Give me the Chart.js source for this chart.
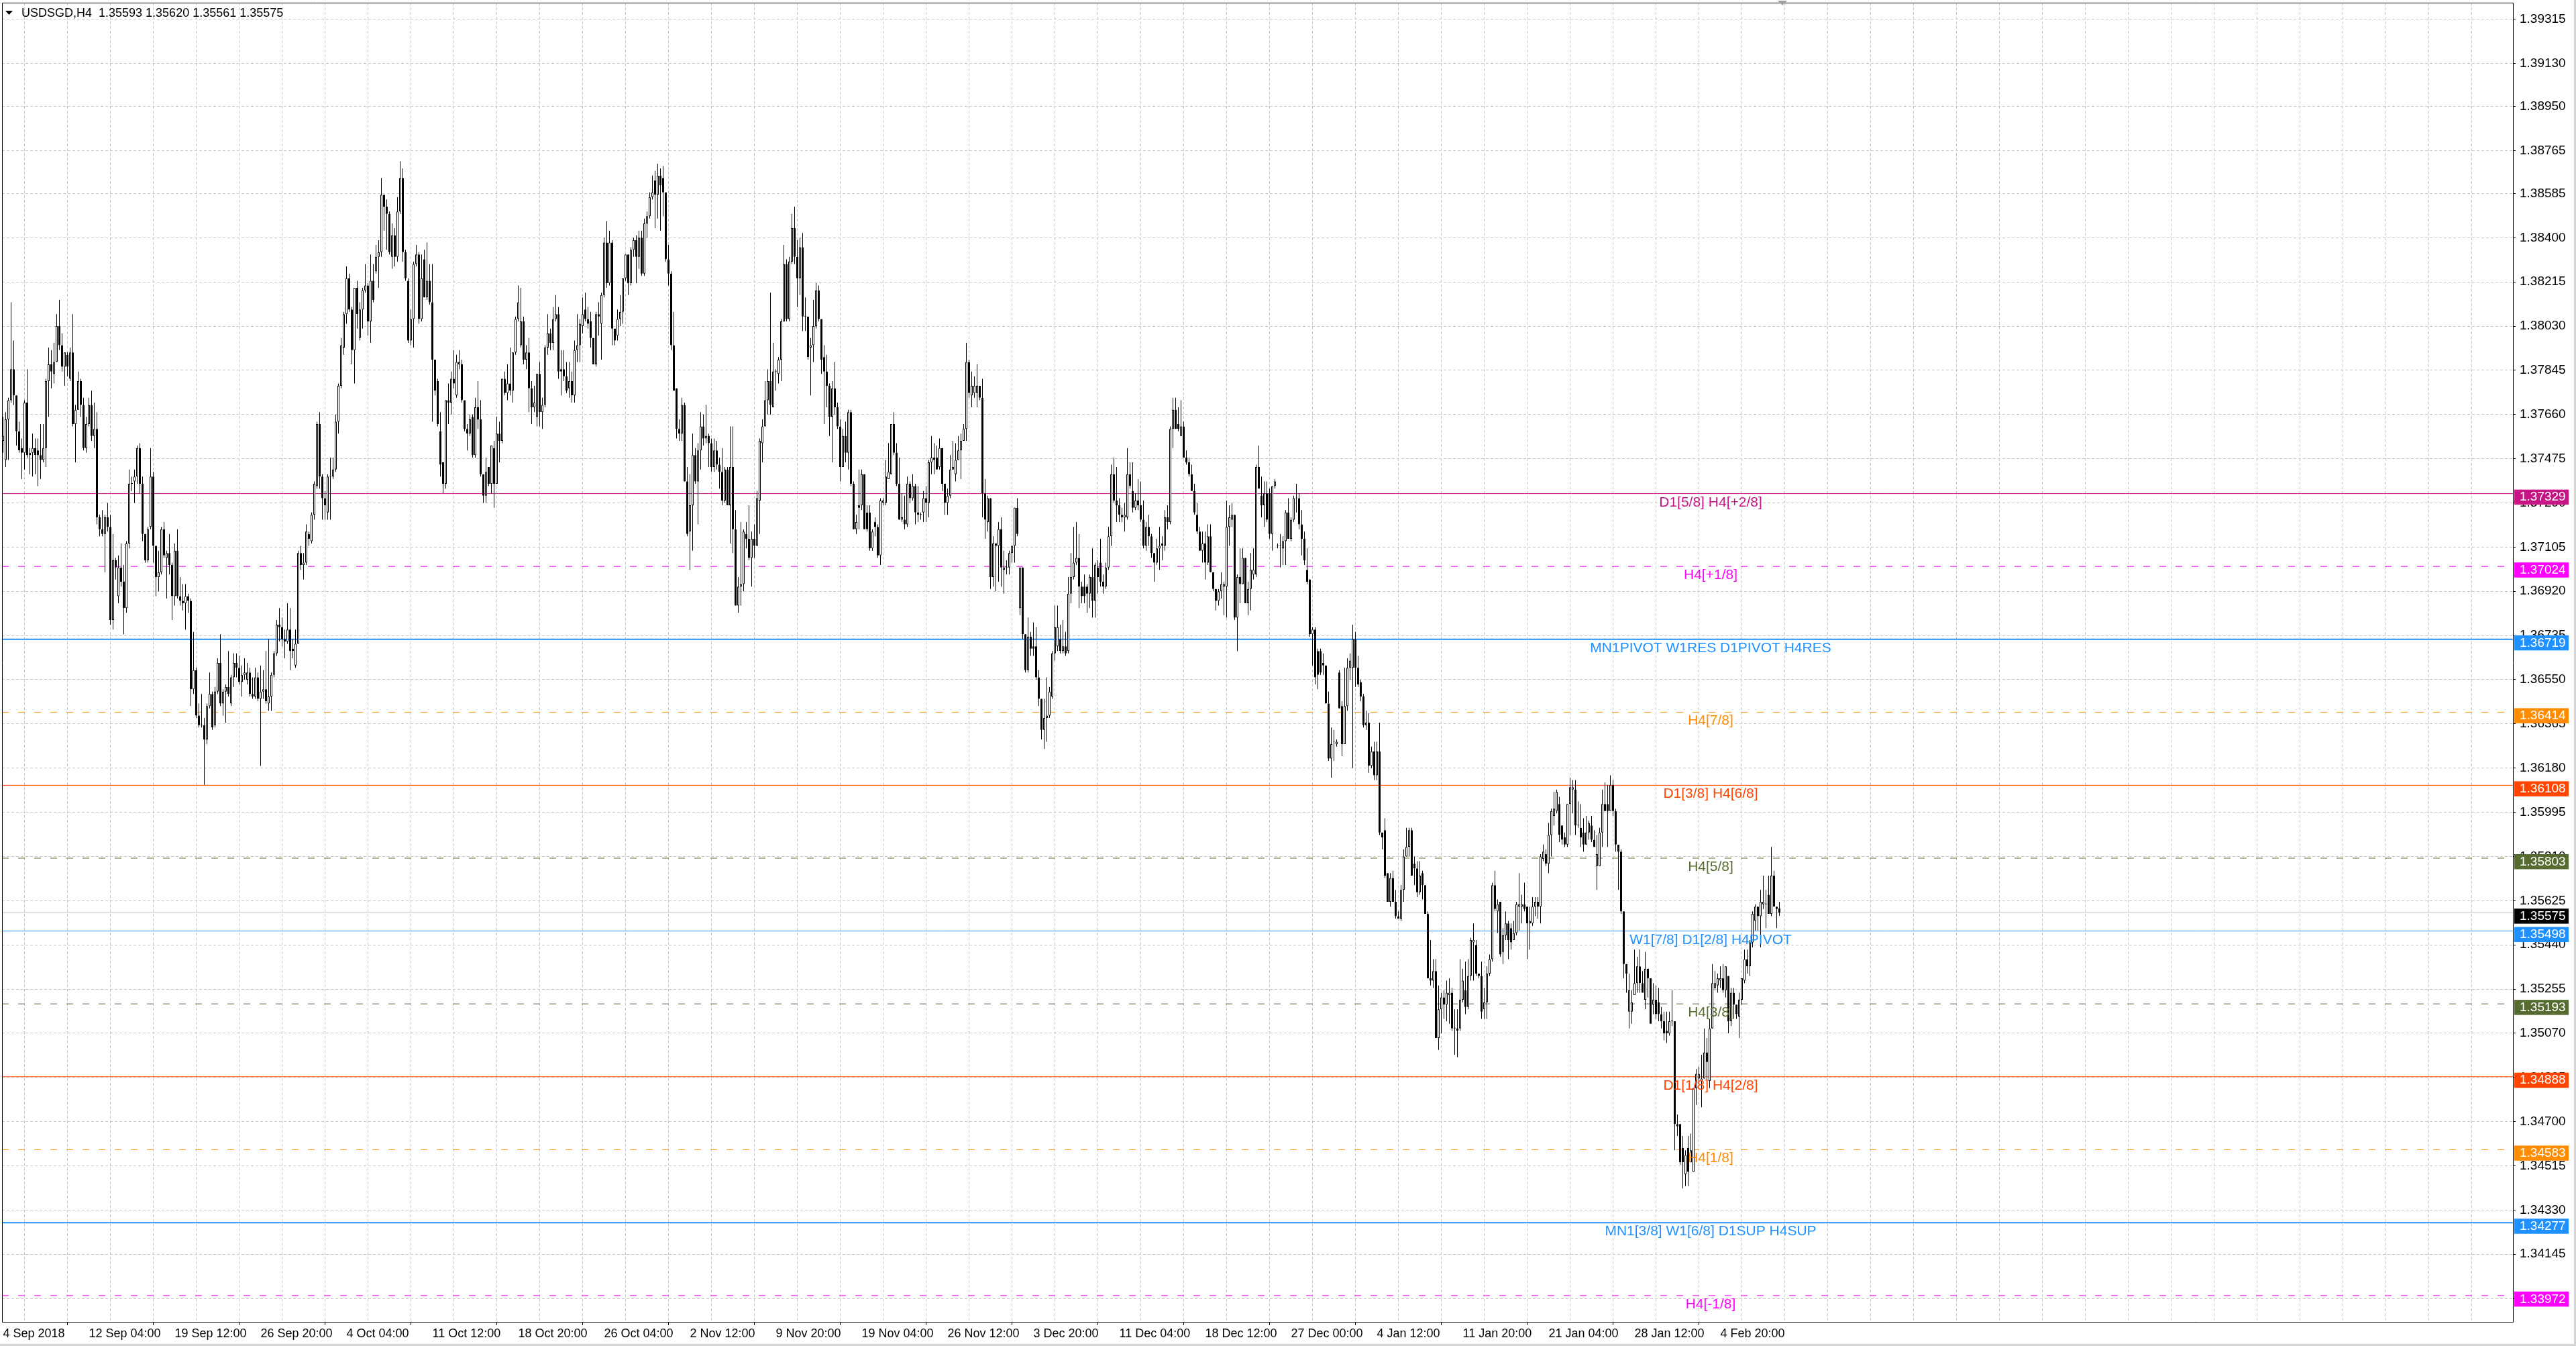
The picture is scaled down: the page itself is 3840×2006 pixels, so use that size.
<!DOCTYPE html>
<html>
<head>
<meta charset="utf-8">
<title>USDSGD,H4</title>
<script src="https://cdn.jsdelivr.net/npm/chart.js@4.4.1/dist/chart.umd.min.js"></script>
<style>
  html, body { margin: 0; padding: 0; background: #fff; overflow: hidden; }
  canvas { display: block; }
</style>
</head>
<body>
<canvas id="chart" width="3840" height="2006"></canvas>
<script>
// USDSGD H4 candles, 4 Sep 2018 .. 8 Feb 2019
const chartTitle = 'USDSGD,H4  1.35593 1.35620 1.35561 1.35575';

const opens = [
  1.3755,1.3747,1.3764,1.3772,1.3785,1.3774,1.3759,1.3752,1.3750,1.3771,
  1.3749,1.3750,1.3752,1.3751,1.3749,1.3747,1.3752,1.3780,1.3787,1.3783,
  1.3788,1.3803,1.3795,1.3786,1.3791,1.3781,1.3792,1.3762,1.3768,1.3780,
  1.3770,1.3752,1.3762,1.3770,1.3757,1.3760,1.3723,1.3718,1.3716,1.3723,
  1.3719,1.3680,1.3705,1.3690,1.3702,1.3696,1.3685,1.3712,1.3737,1.3738,
  1.3740,1.3752,1.3737,1.3716,1.3705,1.3719,1.3740,1.3711,1.3698,1.3700,
  1.3718,1.3706,1.3708,1.3703,1.3690,1.3709,1.3690,1.3688,1.3687,1.3690,
  1.3688,1.3651,1.3659,1.3640,1.3636,1.3636,1.3630,1.3644,1.3649,1.3636,
  1.3650,1.3662,1.3645,1.3650,1.3652,1.3645,1.3656,1.3662,1.3660,1.3654,
  1.3657,1.3655,1.3658,1.3649,1.3648,1.3656,1.3647,1.3650,1.3651,1.3645,
  1.3648,1.3657,1.3666,1.3678,1.3677,1.3672,1.3671,1.3676,1.3668,1.3661,
  1.3670,1.3708,1.3703,1.3704,1.3716,1.3713,1.3724,1.3736,1.3762,1.3740,
  1.3731,1.3725,1.3740,1.3740,1.3743,1.3763,1.3778,1.3794,1.3808,1.3823,
  1.3810,1.3793,1.3819,1.3798,1.3810,1.3818,1.3820,1.3805,1.3822,1.3826,
  1.3832,1.3834,1.3858,1.3853,1.3850,1.3832,1.3841,1.3832,1.3851,1.3865,
  1.3834,1.3822,1.3797,1.3806,1.3829,1.3833,1.3806,1.3831,1.3815,1.3822,
  1.3813,1.3789,1.3780,1.3759,1.3746,1.3737,1.3772,1.3771,1.3781,1.3774,
  1.3787,1.3787,1.3772,1.3760,1.3758,1.3765,1.3749,1.3769,1.3764,1.3741,
  1.3732,1.3744,1.3737,1.3752,1.3737,1.3758,1.3755,1.3781,1.3775,1.3779,
  1.3776,1.3792,1.3806,1.3795,1.3805,1.3789,1.3792,1.3777,1.3769,1.3765,
  1.3783,1.3767,1.3770,1.3794,1.3800,1.3796,1.3806,1.3808,1.3785,1.3785,
  1.3782,1.3777,1.3780,1.3774,1.3793,1.3795,1.3803,1.3810,1.3806,1.3805,
  1.3798,1.3787,1.3808,1.3804,1.3816,1.3838,1.3821,1.3838,1.3802,1.3799,
  1.3806,1.3809,1.3823,1.3833,1.3821,1.3835,1.3839,1.3832,1.3840,1.3825,
  1.3846,1.3849,1.3857,1.3864,1.3858,1.3866,1.3865,1.3859,1.3831,1.3825,
  1.3795,1.3777,1.3760,1.3758,1.3770,1.3738,1.3717,1.3728,1.3749,1.3738,
  1.3751,1.3761,1.3756,1.3757,1.3754,1.3744,1.3751,1.3745,1.3742,1.3730,
  1.3743,1.3728,1.3744,1.3718,1.3686,1.3694,1.3695,1.3716,1.3714,1.3706,
  1.3714,1.3711,1.3730,1.3754,1.3761,1.3772,1.3780,1.3769,1.3784,1.3783,
  1.3789,1.3805,1.3829,1.3806,1.3830,1.3844,1.3832,1.3823,1.3836,1.3807,
  1.3807,1.3794,1.3795,1.3803,1.3818,1.3806,1.3790,1.3784,1.3778,1.3765,
  1.3777,1.3769,1.3761,1.3744,1.3757,1.3750,1.3767,1.3737,1.3718,1.3728,
  1.3728,1.3741,1.3725,1.3725,1.3710,1.3721,1.3719,1.3707,1.3729,1.3729,
  1.3739,1.3741,1.3762,1.3750,1.3737,1.3722,1.3722,1.3720,1.3737,1.3731,
  1.3736,1.3725,1.3724,1.3725,1.3731,1.3729,1.3746,1.3748,1.3748,1.3744,
  1.3752,1.3737,1.3729,1.3732,1.3743,1.3741,1.3747,1.3751,1.3755,1.3760,
  1.3788,1.3774,1.3775,1.3775,1.3778,1.3773,1.3733,1.3721,1.3731,1.3698,
  1.3712,1.3711,1.3718,1.3701,1.3702,1.3702,1.3708,1.3711,1.3727,1.3685,
  1.3702,1.3674,1.3659,1.3673,1.3669,1.3669,1.3656,1.3647,1.3634,1.3639,
  1.3640,1.3648,1.3666,1.3669,1.3672,1.3667,1.3669,1.3667,1.3691,1.3698,
  1.3704,1.3706,1.3694,1.3694,1.3694,1.3691,1.3698,1.3688,1.3702,1.3704,
  1.3696,1.3694,1.3702,1.3715,1.3741,1.3730,1.3728,1.3724,1.3723,1.3723,
  1.3741,1.3734,1.3727,1.3730,1.3728,1.3722,1.3711,1.3719,1.3715,1.3708,
  1.3704,1.3710,1.3712,1.3711,1.3723,1.3721,1.3760,1.3768,1.3762,1.3757,
  1.3761,1.3748,1.3746,1.3741,1.3734,1.3724,1.3717,1.3709,1.3712,1.3704,
  1.3715,1.3700,1.3693,1.3688,1.3692,1.3694,1.3694,1.3719,1.3722,1.3724,
  1.3681,1.3698,1.3695,1.3706,1.3687,1.3693,1.3699,1.3699,1.3744,1.3732,
  1.3728,1.3733,1.3733,1.3716,1.3736,1.3711,1.3711,1.3710,1.3713,1.3725,
  1.3714,1.3722,1.3731,1.3731,1.3720,1.3714,1.3701,1.3697,1.3674,1.3676,
  1.3667,1.3667,1.3662,1.3661,1.3645,1.3622,1.3629,1.3628,1.3658,1.3644,
  1.3628,1.3644,1.3660,1.3660,1.3672,1.3660,1.3654,1.3648,1.3636,1.3637,
  1.3619,1.3625,1.3615,1.3625,1.3591,1.3592,1.3574,1.3562,1.3572,1.3562,
  1.3556,1.3555,1.3567,1.3581,1.3585,1.3592,1.3578,1.3576,1.3566,1.3574,
  1.3569,1.3557,1.3530,1.3529,1.3533,1.3505,1.3517,1.3522,1.3519,1.3523,
  1.3524,1.3509,1.3509,1.3509,1.3521,1.3525,1.3518,1.3531,1.3545,1.3544,
  1.3532,1.3531,1.3517,1.3520,1.3532,1.3538,1.3569,1.3558,1.3562,1.3541,
  1.3548,1.3553,1.3551,1.3546,1.3549,1.3560,1.3560,1.3561,1.3560,1.3553,
  1.3553,1.3560,1.3562,1.3560,1.3580,1.3582,1.3578,1.3590,1.3598,1.3600,
  1.3603,1.3594,1.3589,1.3586,1.3603,1.3609,1.3609,1.3594,1.3593,1.3591,
  1.3586,1.3591,1.3594,1.3588,1.3577,1.3577,1.3591,1.3603,1.3603,1.3600,
  1.3611,1.3600,1.3586,1.3583,1.3558,1.3536,1.3516,1.3516,1.3523,1.3528,
  1.3535,1.3528,1.3521,1.3534,1.3530,1.3519,1.3521,1.3520,1.3515,1.3512,
  1.3508,1.3507,1.3512,1.3512,1.3469,1.3469,1.3459,1.3448,1.3459,1.3453,
  1.3449,1.3484,1.3488,1.3487,1.3488,1.3499,1.3487,1.3509,1.3526,1.3527,
  1.3529,1.3530,1.3525,1.3531,1.3512,1.3524,1.3519,1.3514,1.3521,1.3529,
  1.3538,1.3535,1.3545,1.3554,1.3560,1.3556,1.3561,1.3561,1.3565,1.3557,
  1.3573,1.3560,1.35593
];

const highs = [
  1.3765,1.3767,1.3773,1.3813,1.3797,1.3774,1.3763,1.3756,1.3772,1.3785,
  1.3752,1.3758,1.3756,1.3756,1.3762,1.3762,1.3781,1.3794,1.3793,1.3796,
  1.3808,1.3814,1.3800,1.3792,1.3792,1.3794,1.3808,1.3770,1.3784,1.3781,
  1.3773,1.3765,1.3773,1.3776,1.3771,1.3767,1.3724,1.3726,1.3724,1.3729,
  1.3724,1.3716,1.3706,1.3707,1.3712,1.3703,1.3713,1.3743,1.3740,1.3743,
  1.3753,1.3754,1.3740,1.3716,1.3719,1.3752,1.3742,1.3711,1.3709,1.3719,
  1.3721,1.3709,1.3716,1.3704,1.3712,1.3718,1.3698,1.3695,1.3695,1.3691,
  1.3689,1.3675,1.3660,1.3645,1.3649,1.3639,1.3645,1.3658,1.3650,1.3652,
  1.3664,1.3674,1.3651,1.3653,1.3667,1.3657,1.3666,1.3666,1.3665,1.3661,
  1.3664,1.3662,1.3660,1.3656,1.3660,1.3658,1.3661,1.3659,1.3667,1.3672,
  1.3658,1.3667,1.3680,1.3685,1.3681,1.3676,1.3687,1.3685,1.3672,1.3676,
  1.3709,1.3711,1.3708,1.3720,1.3717,1.3725,1.3738,1.3763,1.3767,1.3741,
  1.3734,1.3741,1.3748,1.3748,1.3766,1.3779,1.3798,1.3809,1.3828,1.3825,
  1.3811,1.3819,1.3822,1.3813,1.3819,1.3829,1.3821,1.3833,1.3829,1.3837,
  1.3839,1.3865,1.3858,1.3856,1.3851,1.3846,1.3844,1.3857,1.3872,1.3869,
  1.3835,1.3823,1.3810,1.3830,1.3837,1.3834,1.3833,1.3835,1.3838,1.3829,
  1.3829,1.3789,1.3781,1.3767,1.3746,1.3772,1.3779,1.3784,1.3793,1.3791,
  1.3793,1.3789,1.3772,1.3762,1.3766,1.3766,1.3773,1.3780,1.3772,1.3741,
  1.3748,1.3744,1.3753,1.3755,1.3765,1.3763,1.3781,1.3784,1.3787,1.3794,
  1.3792,1.3807,1.3820,1.3819,1.3807,1.3795,1.3798,1.3780,1.3778,1.3783,
  1.3788,1.3773,1.3795,1.3808,1.3802,1.3811,1.3816,1.3811,1.3793,1.3793,
  1.3788,1.3788,1.3784,1.3797,1.3808,1.3806,1.3815,1.3817,1.3811,1.3809,
  1.3798,1.3809,1.3813,1.3817,1.3840,1.3847,1.3843,1.3839,1.3802,1.3810,
  1.3816,1.3823,1.3833,1.3833,1.3836,1.3840,1.3841,1.3843,1.3843,1.3848,
  1.3851,1.3859,1.3866,1.3868,1.3871,1.3869,1.3870,1.3859,1.3837,1.3826,
  1.3809,1.3777,1.3764,1.3773,1.3771,1.3744,1.3741,1.3758,1.3752,1.3754,
  1.3767,1.3766,1.3770,1.3758,1.3756,1.3756,1.3755,1.3748,1.3752,1.3744,
  1.3744,1.3761,1.3761,1.3726,1.3698,1.3721,1.3718,1.3721,1.3728,1.3717,
  1.3720,1.3734,1.3756,1.3764,1.3780,1.3785,1.3817,1.3796,1.3785,1.3790,
  1.3806,1.3837,1.3831,1.3832,1.3850,1.3853,1.3839,1.3840,1.3842,1.3815,
  1.3807,1.3798,1.3814,1.3821,1.3820,1.3806,1.3795,1.3791,1.3779,1.3780,
  1.3788,1.3771,1.3764,1.3760,1.3763,1.3768,1.3768,1.3738,1.3724,1.3743,
  1.3743,1.3741,1.3728,1.3728,1.3718,1.3723,1.3720,1.3731,1.3731,1.3747,
  1.3754,1.3762,1.3767,1.3754,1.3748,1.3733,1.3732,1.3740,1.3738,1.3741,
  1.3737,1.3736,1.3725,1.3734,1.3736,1.3747,1.3757,1.3754,1.3753,1.3756,
  1.3752,1.3737,1.3735,1.3749,1.3755,1.3754,1.3757,1.3758,1.3762,1.3796,
  1.3789,1.3784,1.3782,1.3787,1.3778,1.3781,1.3739,1.3732,1.3731,1.3715,
  1.3712,1.3721,1.3723,1.3709,1.3705,1.3709,1.3711,1.3727,1.3731,1.3702,
  1.3702,1.3674,1.3681,1.3675,1.3679,1.3677,1.3659,1.3647,1.3647,1.3656,
  1.3652,1.3667,1.3686,1.3686,1.3678,1.3680,1.3675,1.3698,1.3708,1.3719,
  1.3721,1.3716,1.3696,1.3699,1.3695,1.3699,1.3710,1.3704,1.3705,1.3714,
  1.3699,1.3704,1.3719,1.3745,1.3748,1.3744,1.3731,1.3727,1.3729,1.3752,
  1.3746,1.3746,1.3733,1.3739,1.3738,1.3730,1.3721,1.3724,1.3716,1.3708,
  1.3714,1.3719,1.3715,1.3726,1.3728,1.3761,1.3773,1.3773,1.3769,1.3772,
  1.3763,1.3751,1.3748,1.3745,1.3737,1.3729,1.3719,1.3717,1.3717,1.3720,
  1.3720,1.3700,1.3693,1.3693,1.3700,1.3696,1.3730,1.3728,1.3729,1.3724,
  1.3699,1.3710,1.3710,1.3706,1.3696,1.3708,1.3710,1.3745,1.3753,1.3740,
  1.3738,1.3738,1.3735,1.3736,1.3739,1.3712,1.3716,1.3715,1.3726,1.3731,
  1.3723,1.3732,1.3737,1.3733,1.3726,1.3717,1.3710,1.3697,1.3677,1.3677,
  1.3668,1.3668,1.3666,1.3661,1.3650,1.3635,1.3634,1.3630,1.3659,1.3646,
  1.3660,1.3664,1.3666,1.3678,1.3675,1.3665,1.3655,1.3649,1.3642,1.3641,
  1.3627,1.3629,1.3629,1.3637,1.3591,1.3597,1.3574,1.3574,1.3575,1.3567,
  1.3558,1.3569,1.3584,1.3593,1.3593,1.3593,1.3581,1.3579,1.3579,1.3575,
  1.3569,1.3558,1.3546,1.3538,1.3538,1.3527,1.3524,1.3525,1.3529,1.3530,
  1.3526,1.3517,1.3517,1.3538,1.3534,1.3537,1.3538,1.3547,1.3553,1.3546,
  1.3532,1.3537,1.3526,1.3535,1.3540,1.3570,1.3575,1.3563,1.3562,1.3551,
  1.3558,1.3554,1.3553,1.3554,1.3562,1.3574,1.3565,1.3570,1.3560,1.3560,
  1.3564,1.3564,1.3564,1.3582,1.3586,1.3584,1.3595,1.3601,1.3608,1.3609,
  1.3606,1.3594,1.3591,1.3603,1.3614,1.3613,1.3613,1.3604,1.3603,1.3597,
  1.3598,1.3596,1.3598,1.3592,1.3590,1.3593,1.3609,1.3612,1.3611,1.3615,
  1.3613,1.3601,1.3586,1.3584,1.3558,1.3536,1.3532,1.3525,1.3542,1.3539,
  1.3542,1.3533,1.3541,1.3534,1.3530,1.3528,1.3527,1.3526,1.3518,1.3516,
  1.3516,1.3516,1.3525,1.3512,1.3473,1.3469,1.3464,1.3458,1.3464,1.3465,
  1.3484,1.3492,1.3493,1.3498,1.3509,1.3505,1.3513,1.3536,1.3533,1.3532,
  1.3535,1.3536,1.3535,1.3531,1.3526,1.3526,1.3519,1.3524,1.3530,1.3542,
  1.3542,1.3546,1.3558,1.3561,1.3560,1.3567,1.3573,1.3567,1.3573,1.3585,
  1.3575,1.3560,1.35620
];

const lows = [
  1.3750,1.3744,1.3747,1.3771,1.3770,1.3753,1.3750,1.3739,1.3743,1.3748,
  1.3741,1.3740,1.3741,1.3736,1.3739,1.3746,1.3744,1.3765,1.3777,1.3779,
  1.3788,1.3793,1.3784,1.3778,1.3782,1.3780,1.3761,1.3746,1.3768,1.3765,
  1.3751,1.3750,1.3761,1.3755,1.3752,1.3720,1.3715,1.3715,1.3700,1.3717,
  1.3678,1.3676,1.3697,1.3687,1.3694,1.3674,1.3683,1.3710,1.3734,1.3729,
  1.3737,1.3733,1.3713,1.3704,1.3704,1.3718,1.3704,1.3690,1.3692,1.3699,
  1.3706,1.3689,1.3699,1.3680,1.3686,1.3689,1.3686,1.3684,1.3676,1.3683,
  1.3644,1.3649,1.3639,1.3635,1.3635,1.3611,1.3628,1.3643,1.3634,1.3635,
  1.3649,1.3644,1.3640,1.3637,1.3648,1.3644,1.3652,1.3656,1.3653,1.3648,
  1.3655,1.3653,1.3648,1.3647,1.3647,1.3646,1.3619,1.3647,1.3645,1.3642,
  1.3642,1.3656,1.3665,1.3671,1.3669,1.3664,1.3670,1.3659,1.3664,1.3660,
  1.3670,1.3701,1.3697,1.3703,1.3711,1.3712,1.3722,1.3735,1.3735,1.3722,
  1.3722,1.3722,1.3722,1.3739,1.3742,1.3758,1.3777,1.3791,1.3804,1.3809,
  1.3787,1.3779,1.3802,1.3797,1.3802,1.3817,1.3799,1.3796,1.3813,1.3825,
  1.3819,1.3832,1.3843,1.3835,1.3833,1.3827,1.3828,1.3830,1.3850,1.3830,
  1.3822,1.3796,1.3795,1.3794,1.3828,1.3804,1.3805,1.3815,1.3814,1.3812,
  1.3763,1.3774,1.3761,1.3740,1.3733,1.3735,1.3762,1.3766,1.3777,1.3773,
  1.3785,1.3771,1.3759,1.3751,1.3757,1.3748,1.3748,1.3760,1.3740,1.3729,
  1.3729,1.3736,1.3733,1.3727,1.3737,1.3746,1.3754,1.3774,1.3772,1.3774,
  1.3771,1.3791,1.3805,1.3794,1.3787,1.3785,1.3767,1.3762,1.3767,1.3761,
  1.3761,1.3760,1.3769,1.3791,1.3793,1.3793,1.3805,1.3781,1.3774,1.3780,
  1.3775,1.3773,1.3771,1.3771,1.3788,1.3788,1.3800,1.3805,1.3802,1.3794,
  1.3787,1.3786,1.3799,1.3789,1.3815,1.3819,1.3820,1.3795,1.3795,1.3797,
  1.3803,1.3804,1.3822,1.3816,1.3820,1.3832,1.3821,1.3827,1.3824,1.3824,
  1.3840,1.3848,1.3856,1.3844,1.3848,1.3843,1.3849,1.3830,1.3820,1.3793,
  1.3776,1.3756,1.3755,1.3755,1.3738,1.3715,1.3701,1.3709,1.3737,1.3720,
  1.3743,1.3753,1.3754,1.3744,1.3742,1.3742,1.3743,1.3735,1.3728,1.3729,
  1.3728,1.3712,1.3708,1.3686,1.3683,1.3686,1.3692,1.3710,1.3705,1.3694,
  1.3706,1.3711,1.3716,1.3746,1.3761,1.3766,1.3766,1.3769,1.3776,1.3779,
  1.3780,1.3805,1.3805,1.3805,1.3829,1.3829,1.3811,1.3816,1.3801,1.3801,
  1.3789,1.3774,1.3788,1.3802,1.3805,1.3783,1.3762,1.3769,1.3757,1.3746,
  1.3766,1.3760,1.3738,1.3744,1.3746,1.3743,1.3736,1.3718,1.3716,1.3718,
  1.3726,1.3718,1.3717,1.3709,1.3709,1.3715,1.3706,1.3703,1.3728,1.3728,
  1.3739,1.3741,1.3749,1.3736,1.3722,1.3721,1.3718,1.3719,1.3729,1.3730,
  1.3720,1.3721,1.3722,1.3721,1.3721,1.3723,1.3741,1.3741,1.3743,1.3743,
  1.3734,1.3724,1.3724,1.3731,1.3743,1.3738,1.3747,1.3739,1.3755,1.3755,
  1.3773,1.3769,1.3773,1.3769,1.3772,1.3723,1.3714,1.3717,1.3693,1.3694,
  1.3692,1.3696,1.3694,1.3691,1.3699,1.3699,1.3704,1.3704,1.3715,1.3682,
  1.3672,1.3658,1.3658,1.3665,1.3665,1.3655,1.3644,1.3630,1.3626,1.3629,
  1.3639,1.3647,1.3663,1.3667,1.3666,1.3666,1.3665,1.3666,1.3687,1.3697,
  1.3703,1.3685,1.3687,1.3687,1.3683,1.3685,1.3681,1.3681,1.3691,1.3694,
  1.3691,1.3693,1.3701,1.3711,1.3729,1.3721,1.3721,1.3721,1.3717,1.3722,
  1.3735,1.3725,1.3726,1.3726,1.3721,1.3710,1.3709,1.3711,1.3706,1.3696,
  1.3703,1.3701,1.3705,1.3709,1.3718,1.3720,1.3752,1.3760,1.3759,1.3757,
  1.3748,1.3745,1.3740,1.3734,1.3724,1.3716,1.3709,1.3704,1.3697,1.3703,
  1.3700,1.3692,1.3684,1.3686,1.3689,1.3682,1.3681,1.3711,1.3719,1.3680,
  1.3667,1.3687,1.3695,1.3687,1.3682,1.3684,1.3697,1.3698,1.3735,1.3723,
  1.3719,1.3721,1.3714,1.3709,1.3735,1.3710,1.3702,1.3703,1.3703,1.3714,
  1.3713,1.3721,1.3725,1.3718,1.3707,1.3703,1.3695,1.3673,1.3661,1.3653,
  1.3651,1.3657,1.3657,1.3645,1.3621,1.3614,1.3621,1.3627,1.3643,1.3623,
  1.3628,1.3642,1.3655,1.3618,1.3652,1.3652,1.3646,1.3635,1.3634,1.3616,
  1.3618,1.3613,1.3613,1.3590,1.3584,1.3572,1.3562,1.3560,1.3562,1.3555,
  1.3555,1.3554,1.3562,1.3581,1.3581,1.3573,1.3569,1.3564,1.3565,1.3563,
  1.3557,1.3530,1.3527,1.3526,1.3505,1.3500,1.3507,1.3513,1.3512,1.3511,
  1.3508,1.3498,1.3497,1.3508,1.3520,1.3515,1.3517,1.3529,1.3529,1.3531,
  1.3530,1.3513,1.3513,1.3513,1.3531,1.3537,1.3558,1.3549,1.3539,1.3536,
  1.3546,1.3538,1.3542,1.3546,1.3548,1.3550,1.3553,1.3558,1.3538,1.3542,
  1.3552,1.3556,1.3555,1.3553,1.3579,1.3577,1.3574,1.3581,1.3594,1.3599,
  1.3587,1.3586,1.3585,1.3585,1.3590,1.3599,1.3590,1.3593,1.3585,1.3583,
  1.3586,1.3588,1.3587,1.3585,1.3567,1.3577,1.3585,1.3600,1.3585,1.3600,
  1.3598,1.3583,1.3567,1.3557,1.3530,1.3524,1.3509,1.3511,1.3523,1.3524,
  1.3524,1.3524,1.3517,1.3522,1.3511,1.3515,1.3513,1.3512,1.3509,1.3504,
  1.3503,1.3506,1.3510,1.3458,1.3464,1.3452,1.3442,1.3443,1.3443,1.3453,
  1.3449,1.3477,1.3487,1.3476,1.3488,1.3484,1.3484,1.3509,1.3525,1.3524,
  1.3526,1.3524,1.3522,1.3507,1.3510,1.3513,1.3513,1.3505,1.3519,1.3528,
  1.3532,1.3531,1.3543,1.3550,1.3550,1.3543,1.3559,1.3551,1.3557,1.3556,
  1.3560,1.3551,1.35561
];

const closes = [
  1.3757,1.3764,1.3772,1.3785,1.3774,1.3759,1.3751,1.3750,1.3771,1.3749,
  1.3750,1.3752,1.3749,1.3749,1.3747,1.3752,1.3780,1.3787,1.3784,1.3788,
  1.3803,1.3795,1.3786,1.3792,1.3786,1.3792,1.3762,1.3768,1.3780,1.3770,
  1.3752,1.3762,1.3770,1.3757,1.3760,1.3723,1.3718,1.3716,1.3723,1.3719,
  1.3680,1.3705,1.3702,1.3702,1.3696,1.3685,1.3712,1.3737,1.3737,1.3740,
  1.3752,1.3737,1.3716,1.3705,1.3718,1.3740,1.3711,1.3698,1.3700,1.3718,
  1.3707,1.3708,1.3703,1.3690,1.3709,1.3690,1.3688,1.3687,1.3690,1.3688,
  1.3651,1.3659,1.3640,1.3636,1.3636,1.3630,1.3644,1.3649,1.3635,1.3650,
  1.3662,1.3645,1.3650,1.3652,1.3649,1.3656,1.3662,1.3660,1.3654,1.3657,
  1.3658,1.3658,1.3649,1.3648,1.3656,1.3647,1.3650,1.3651,1.3646,1.3648,
  1.3657,1.3666,1.3678,1.3677,1.3672,1.3671,1.3676,1.3667,1.3667,1.3670,
  1.3708,1.3703,1.3704,1.3717,1.3714,1.3724,1.3737,1.3762,1.3740,1.3731,
  1.3728,1.3740,1.3740,1.3743,1.3763,1.3778,1.3795,1.3808,1.3823,1.3810,
  1.3793,1.3819,1.3808,1.3810,1.3818,1.3820,1.3805,1.3822,1.3814,1.3832,
  1.3834,1.3858,1.3853,1.3850,1.3834,1.3841,1.3832,1.3851,1.3865,1.3834,
  1.3823,1.3797,1.3806,1.3829,1.3833,1.3806,1.3823,1.3815,1.3822,1.3813,
  1.3789,1.3776,1.3762,1.3745,1.3737,1.3772,1.3771,1.3781,1.3779,1.3788,
  1.3788,1.3772,1.3760,1.3758,1.3764,1.3749,1.3769,1.3764,1.3741,1.3732,
  1.3742,1.3737,1.3753,1.3737,1.3758,1.3755,1.3781,1.3775,1.3779,1.3776,
  1.3792,1.3806,1.3813,1.3805,1.3789,1.3792,1.3777,1.3769,1.3771,1.3783,
  1.3767,1.3770,1.3794,1.3800,1.3796,1.3806,1.3808,1.3784,1.3784,1.3782,
  1.3776,1.3780,1.3774,1.3793,1.3795,1.3804,1.3808,1.3806,1.3804,1.3798,
  1.3787,1.3808,1.3807,1.3816,1.3838,1.3821,1.3838,1.3802,1.3797,1.3806,
  1.3809,1.3823,1.3833,1.3821,1.3835,1.3839,1.3832,1.3840,1.3825,1.3846,
  1.3849,1.3857,1.3859,1.3858,1.3866,1.3862,1.3859,1.3831,1.3825,1.3795,
  1.3776,1.3760,1.3758,1.3770,1.3738,1.3716,1.3728,1.3749,1.3738,1.3751,
  1.3761,1.3756,1.3757,1.3754,1.3744,1.3751,1.3745,1.3742,1.3730,1.3743,
  1.3728,1.3744,1.3718,1.3686,1.3694,1.3695,1.3717,1.3714,1.3706,1.3714,
  1.3711,1.3731,1.3755,1.3761,1.3772,1.3780,1.3770,1.3784,1.3784,1.3789,
  1.3805,1.3829,1.3806,1.3830,1.3844,1.3832,1.3823,1.3836,1.3807,1.3807,
  1.3790,1.3795,1.3803,1.3818,1.3806,1.3789,1.3784,1.3778,1.3765,1.3777,
  1.3769,1.3761,1.3744,1.3757,1.3750,1.3767,1.3737,1.3718,1.3721,1.3727,
  1.3741,1.3718,1.3718,1.3710,1.3717,1.3719,1.3707,1.3730,1.3730,1.3740,
  1.3742,1.3762,1.3750,1.3737,1.3722,1.3723,1.3720,1.3737,1.3731,1.3736,
  1.3725,1.3724,1.3724,1.3731,1.3729,1.3746,1.3748,1.3747,1.3743,1.3752,
  1.3737,1.3729,1.3732,1.3743,1.3744,1.3747,1.3751,1.3755,1.3760,1.3788,
  1.3775,1.3778,1.3778,1.3778,1.3773,1.3733,1.3722,1.3731,1.3698,1.3712,
  1.3711,1.3718,1.3702,1.3702,1.3702,1.3708,1.3711,1.3727,1.3716,1.3702,
  1.3674,1.3659,1.3673,1.3668,1.3668,1.3656,1.3647,1.3634,1.3639,1.3640,
  1.3650,1.3666,1.3677,1.3677,1.3667,1.3669,1.3666,1.3691,1.3698,1.3704,
  1.3706,1.3694,1.3690,1.3690,1.3691,1.3698,1.3688,1.3703,1.3698,1.3696,
  1.3694,1.3702,1.3715,1.3741,1.3730,1.3728,1.3724,1.3723,1.3724,1.3741,
  1.3736,1.3727,1.3730,1.3728,1.3722,1.3711,1.3719,1.3715,1.3708,1.3704,
  1.3710,1.3711,1.3711,1.3723,1.3721,1.3760,1.3768,1.3760,1.3760,1.3761,
  1.3748,1.3746,1.3741,1.3734,1.3725,1.3717,1.3709,1.3712,1.3704,1.3715,
  1.3700,1.3693,1.3688,1.3692,1.3695,1.3695,1.3719,1.3723,1.3724,1.3681,
  1.3698,1.3695,1.3706,1.3687,1.3693,1.3701,1.3701,1.3744,1.3735,1.3728,
  1.3733,1.3722,1.3716,1.3736,1.3738,1.3711,1.3711,1.3713,1.3725,1.3714,
  1.3722,1.3731,1.3731,1.3720,1.3714,1.3705,1.3696,1.3674,1.3676,1.3656,
  1.3657,1.3658,1.3661,1.3645,1.3622,1.3628,1.3629,1.3629,1.3643,1.3628,
  1.3644,1.3660,1.3663,1.3672,1.3660,1.3653,1.3648,1.3636,1.3637,1.3619,
  1.3625,1.3615,1.3625,1.3591,1.3589,1.3573,1.3562,1.3572,1.3562,1.3556,
  1.3555,1.3567,1.3581,1.3585,1.3592,1.3573,1.3576,1.3566,1.3573,1.3569,
  1.3557,1.3530,1.3529,1.3533,1.3505,1.3517,1.3522,1.3519,1.3524,1.3524,
  1.3509,1.3509,1.3508,1.3521,1.3529,1.3518,1.3531,1.3546,1.3546,1.3532,
  1.3531,1.3516,1.3520,1.3532,1.3538,1.3569,1.3559,1.3561,1.3540,1.3548,
  1.3553,1.3546,1.3545,1.3549,1.3561,1.3561,1.3561,1.3559,1.3553,1.3554,
  1.3560,1.3562,1.3560,1.3581,1.3583,1.3578,1.3590,1.3600,1.3601,1.3608,
  1.3590,1.3588,1.3586,1.3603,1.3610,1.3610,1.3594,1.3594,1.3589,1.3586,
  1.3591,1.3595,1.3588,1.3585,1.3582,1.3591,1.3603,1.3600,1.3600,1.3611,
  1.3600,1.3586,1.3583,1.3558,1.3536,1.3532,1.3525,1.3520,1.3528,1.3535,
  1.3528,1.3524,1.3534,1.3530,1.3511,1.3521,1.3515,1.3515,1.3512,1.3507,
  1.3507,1.3512,1.3512,1.3469,1.3468,1.3453,1.3453,1.3456,1.3449,1.3458,
  1.3484,1.3490,1.3490,1.3488,1.3499,1.3495,1.3509,1.3528,1.3528,1.3530,
  1.3530,1.3525,1.3535,1.3512,1.3524,1.3519,1.3515,1.3521,1.3530,1.3538,
  1.3535,1.3545,1.3557,1.3560,1.3556,1.3562,1.3562,1.3561,1.3557,1.3573,
  1.3560,1.3559,1.35575
];

// time axis: one label every 32 bars, a grid line every 16 bars
const timeLabels = [
  '4 Sep 2018', '12 Sep 04:00', '19 Sep 12:00', '26 Sep 20:00', '4 Oct 04:00',
  '11 Oct 12:00', '18 Oct 20:00', '26 Oct 04:00', '2 Nov 12:00', '9 Nov 20:00',
  '19 Nov 04:00', '26 Nov 12:00', '3 Dec 20:00', '11 Dec 04:00', '18 Dec 12:00',
  '27 Dec 00:00', '4 Jan 12:00', '11 Jan 20:00', '21 Jan 04:00', '28 Jan 12:00',
  '4 Feb 20:00'
];

const priceTicks = [
  1.39315, 1.39130, 1.38950, 1.38765, 1.38585, 1.38400, 1.38215, 1.38030,
  1.37845, 1.37660, 1.37475, 1.37290, 1.37105, 1.36920, 1.36735, 1.36550,
  1.36365, 1.36180, 1.35995, 1.35810, 1.35625, 1.35440, 1.35255, 1.35070,
  1.34885, 1.34700, 1.34515, 1.34330, 1.34145, 1.33960
];

// Murrey / pivot levels drawn by the indicator
const levelPrices = [1.37329, 1.37024, 1.36719, 1.36414, 1.36108, 1.35803,
                     1.35498, 1.35193, 1.34888, 1.34583, 1.34277, 1.33972];
const levelNames = ['D1[5/8] H4[+2/8]', 'H4[+1/8]', 'MN1PIVOT W1RES D1PIVOT H4RES',
                    'H4[7/8]', 'D1[3/8] H4[6/8]', 'H4[5/8]', 'W1[7/8] D1[2/8] H4PIVOT',
                    'H4[3/8]', 'D1[1/8] H4[2/8]', 'H4[1/8]', 'MN1[3/8] W1[6/8] D1SUP H4SUP',
                    'H4[-1/8]'];
const lastPrice = 1.35575;

// styles for the levels
const levelColors = ['#c71585', '#ff00ff', '#1e90ff', '#ff8c00', '#ff4500', '#556b2f',
                     '#1e90ff', '#556b2f', '#ff4500', '#ff8c00', '#1e90ff', '#ff00ff'];
const levelDashed = [false, true, false, true, false, true, false, true, false, true, false, true];
const levelWidths = [1, 1, 2, 1, 1, 1, 1, 1, 1, 1, 2, 1];

const FONT = '"Liberation Sans", Arial, sans-serif';
const X_MIN = -0.375;
const X_MAX = X_MIN + 3743 / 4;
const Y_MIN = 1.33862;
const Y_MAX = 1.39384;

const gridBars = [];
for (let v = 0; v <= X_MAX; v += 16) gridBars.push(v);

function timeLabelFor(v) {
  if (v % 32 !== 0) return '';
  return timeLabels[v / 32] || '';
}

// no extra room for half labels at the ends of the axes
function noEdgePadding(axis) {
  axis.paddingTop = 0;
  axis.paddingBottom = 0;
  axis.paddingLeft = 0;
  axis.paddingRight = 0;
}

const wickData = closes.map((c, i) => ({ x: i, y: [lows[i], highs[i]] }));
const bodyData = closes.map((c, i) => ({ x: i, y: [opens[i], c] }));
const bodyFill = closes.map((c, i) => (c >= opens[i] ? '#ffffff' : '#000000'));

const levelSets = levelPrices.map((p, k) => ({
  type: 'line',
  data: [{ x: X_MIN, y: p }, { x: X_MAX, y: p }],
  borderColor: levelColors[k],
  borderWidth: levelWidths[k],
  borderDash: levelDashed[k] ? [10, 14] : [],
  pointRadius: 0,
  fill: false,
  order: 3
}));

const lastPriceSet = {
  type: 'line',
  data: [{ x: X_MIN, y: lastPrice }, { x: X_MAX, y: lastPrice }],
  borderColor: '#c0c0c0',
  borderWidth: 1,
  pointRadius: 0,
  fill: false,
  order: 3
};

// frame, title, level captions and price boxes, MT4 style
const terminalLook = {
  id: 'terminalLook',
  beforeDraw(chart) {
    const ctx = chart.ctx;
    ctx.save();
    ctx.fillStyle = '#ffffff';
    ctx.fillRect(0, 0, chart.width, chart.height);
    ctx.restore();
  },
  afterDatasetsDraw(chart) {
    const ctx = chart.ctx;
    const y = chart.scales.y;
    ctx.save();
    ctx.font = '21px ' + FONT;
    ctx.textAlign = 'center';
    ctx.textBaseline = 'alphabetic';
    levelPrices.forEach((p, k) => {
      ctx.fillStyle = levelColors[k];
      ctx.fillText(levelNames[k], 2550, y.getPixelForValue(p) + 19);
    });
    ctx.restore();
  },
  afterDraw(chart) {
    const ctx = chart.ctx;
    const area = chart.chartArea;
    const y = chart.scales.y;
    ctx.save();

    // chart frame
    ctx.strokeStyle = '#000000';
    ctx.lineWidth = 1;
    ctx.beginPath();
    ctx.moveTo(area.left + 0.5, area.top + 0.5);
    ctx.lineTo(area.right + 0.5, area.top + 0.5);
    ctx.lineTo(area.right + 0.5, area.bottom + 0.5);
    ctx.lineTo(area.left + 0.5, area.bottom + 0.5);
    ctx.closePath();
    ctx.stroke();

    // window edge
    ctx.fillStyle = '#d4d4d4';
    ctx.fillRect(chart.width - 3, 0, 3, chart.height);
    ctx.fillRect(0, chart.height - 3, chart.width, 3);

    // chart shift marker
    ctx.fillStyle = '#a0a0a0';
    ctx.beginPath();
    ctx.moveTo(2650, 1);
    ctx.lineTo(2664, 1);
    ctx.lineTo(2657, 8);
    ctx.closePath();
    ctx.fill();

    // title
    ctx.fillStyle = '#000000';
    ctx.beginPath();
    ctx.moveTo(8, 16);
    ctx.lineTo(19, 16);
    ctx.lineTo(13.5, 22);
    ctx.closePath();
    ctx.fill();
    ctx.font = '18px ' + FONT;
    ctx.textAlign = 'left';
    ctx.textBaseline = 'alphabetic';
    ctx.fillText(chartTitle, 32, 25);

    // price boxes on the scale
    const boxes = levelPrices.map((p, k) => [p, levelColors[k]]);
    boxes.push([lastPrice, '#000000']);
    ctx.font = '19px ' + FONT;
    ctx.textBaseline = 'middle';
    boxes.forEach(([p, col]) => {
      const py = y.getPixelForValue(p);
      ctx.fillStyle = col;
      ctx.fillRect(area.right + 2, py - 6, 81, 22.5);
      ctx.fillStyle = '#ffffff';
      ctx.fillText(p.toFixed(5), area.right + 10, py + 5.5);
    });
    ctx.restore();
  }
};

new Chart(document.getElementById('chart'), {
  type: 'bar',
  data: {
    datasets: [
      {
        type: 'bar',
        data: bodyData,
        backgroundColor: bodyFill,
        borderColor: '#000000',
        borderWidth: 1,
        borderSkipped: false,
        barThickness: 3,
        minBarLength: 1,
        inflateAmount: 0,
        grouped: false,
        order: 0
      },
      {
        type: 'bar',
        data: wickData,
        backgroundColor: '#000000',
        borderWidth: 0,
        barThickness: 1,
        minBarLength: 1,
        inflateAmount: 0,
        grouped: false,
        order: 1
      },
      lastPriceSet,
      ...levelSets
    ]
  },
  options: {
    responsive: false,
    animation: false,
    devicePixelRatio: 1,
    events: [],
    layout: { padding: { left: 3, top: 4, right: 0, bottom: 0 } },
    plugins: { legend: { display: false }, tooltip: { enabled: false } },
    scales: {
      x: {
        type: 'linear',
        min: X_MIN,
        max: X_MAX,
        offset: false,
        afterBuildTicks: (axis) => { axis.ticks = gridBars.map((v) => ({ value: v })); },
        afterFit: (axis) => { axis.height = 36; noEdgePadding(axis); },
        grid: {
          color: '#c8c8c8',
          lineWidth: 1,
          drawTicks: true,
          tickLength: 5,
          tickWidth: 1,
          tickColor: (c) => (c.tick && timeLabelFor(c.tick.value) ? '#000000' : 'rgba(0,0,0,0)')
        },
        border: { display: false, dash: [4, 3] },
        ticks: {
          autoSkip: false,
          maxRotation: 0,
          minRotation: 0,
          align: 'start',
          padding: 2,
          color: '#000000',
          font: { family: FONT, size: 18 },
          callback: (v) => timeLabelFor(v)
        }
      },
      y: {
        type: 'linear',
        position: 'right',
        min: Y_MIN,
        max: Y_MAX,
        afterBuildTicks: (axis) => { axis.ticks = priceTicks.map((v) => ({ value: v })); },
        afterFit: (axis) => { axis.width = 94; noEdgePadding(axis); },
        grid: {
          color: '#c8c8c8',
          lineWidth: 1,
          drawTicks: true,
          tickLength: 4,
          tickWidth: 1,
          tickColor: '#000000'
        },
        border: { display: false, dash: [4, 3] },
        ticks: {
          padding: 6,
          color: '#000000',
          font: { family: FONT, size: 19 },
          callback: (v) => Number(v).toFixed(5)
        }
      }
    }
  },
  plugins: [terminalLook]
});
</script>
</body>
</html>
